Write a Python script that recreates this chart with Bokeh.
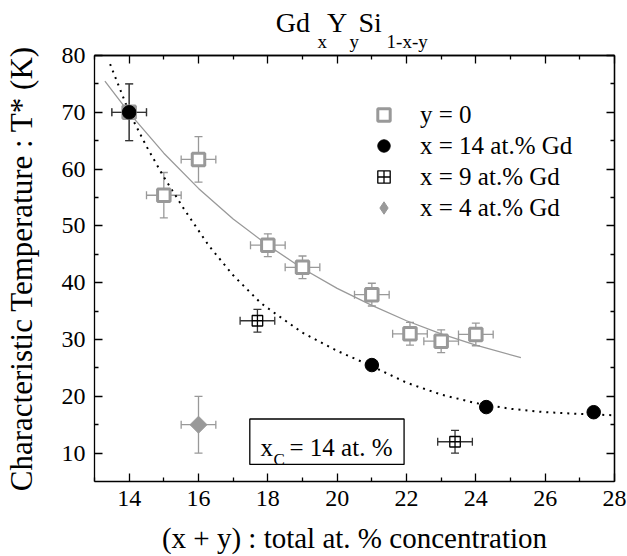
import numpy as np
from bokeh.plotting import figure
from bokeh.models import (ColumnDataSource, Whisker, TeeHead, Label, Legend, LegendItem,
                          LinearAxis, FixedTicker, Range1d, BoxAnnotation,
                          CustomJSTickFormatter)
from bokeh.embed import file_html
from bokeh.resources import INLINE

# ---------------- data ----------------
# y = 0 series (open gray squares)
y0_x = [14.0, 15.0, 16.0, 18.0, 19.0, 21.0, 22.1, 23.0, 24.0]
y0_y = [70.0, 55.4, 61.7, 46.6, 42.7, 37.9, 31.0, 29.7, 30.9]
y0_xerr = [0.5, 0.5, 0.5, 0.5, 0.5, 0.5, 0.5, 0.5, 0.5]
y0_yerr = [5.0, 4.0, 4.0, 2.0, 2.0, 2.0, 2.0, 2.0, 2.0]

# x = 14 at.% Gd (black circles)
x14_x = [14.0, 21.0, 24.3, 27.4]
x14_y = [70.0, 25.5, 18.1, 17.2]
x14_xerr = [0.5, 0.0, 0.0, 0.0]
x14_yerr = [5.0, 0.0, 0.0, 0.0]

# x = 9 at.% Gd (square with cross)
x9_x = [17.7, 23.4]
x9_y = [33.3, 12.0]
x9_xerr = [0.5, 0.5]
x9_yerr = [2.0, 2.0]

# x = 4 at.% Gd (gray diamond)
x4_x = [16.0]
x4_y = [15.0]
x4_xerr = [0.5]
x4_yerr = [5.0]

# fitted curves
fit_y0_x = [13.3, 14.0, 15.0, 16.0, 17.0, 18.0, 19.0, 20.0, 21.0, 22.0, 23.0, 24.0, 25.3]
fit_y0_y = [75.5, 69.9, 62.8, 56.6, 51.2, 46.6, 42.5, 39.0, 36.0, 33.3, 31.0, 29.0, 26.8]
fit_x14_x = [13.45, 14.0, 14.5, 15.0, 15.6, 16.3, 17.0, 17.8, 18.3, 19.0, 20.0, 21.0,
             22.0, 23.0, 24.0, 25.0, 26.0, 27.0, 28.0]
fit_x14_y = [78.5, 70.0, 64.0, 58.6, 52.8, 46.5, 41.3, 36.4, 34.2, 31.2, 28.0, 25.3,
             22.4, 20.3, 18.8, 17.8, 17.2, 16.9, 16.65]

x_ticks = [14, 16, 18, 20, 22, 24, 26, 28]
x_minor = [13, 15, 17, 19, 21, 23, 25, 27]
y_ticks = [10, 20, 30, 40, 50, 60, 70, 80]
y_minor = [15, 25, 35, 45, 55, 65, 75]

# title pieces: text and the x position (in axis units) of each piece's centre
title_main = ["Gd", "Y", "Si"]
title_main_at = [18.72, 20.0, 20.95]
title_sub = ["x", "y", "1-x-y"]
title_sub_at = [19.57, 20.49, 22.02]

FONT = "Liberation Serif"
QFONT = "'Liberation Serif'"
GRAY = "#999999"

# ---------------- figure ----------------
p = figure(width=627, height=556, x_range=Range1d(13, 28), y_range=Range1d(5, 80),
           output_backend="svg", toolbar_location=None,
           min_border_left=93, min_border_right=13, min_border_top=55, min_border_bottom=74,
           x_axis_location=None, y_axis_location=None)
p.xgrid.visible = False
p.ygrid.visible = False
p.outline_line_color = None


def style_axis(ax):
    ax.axis_line_color = "black"
    ax.axis_line_width = 1.3
    ax.major_tick_line_width = 1.3
    ax.minor_tick_line_width = 1.3
    ax.major_tick_line_color = "black"
    ax.minor_tick_line_color = "black"
    ax.major_tick_in = 8
    ax.major_tick_out = 0
    ax.minor_tick_in = 4
    ax.minor_tick_out = 0


def labelled_axis(ticks, minor, label, label_size, standoff):
    ax = LinearAxis(ticker=FixedTicker(ticks=ticks, minor_ticks=minor))
    style_axis(ax)
    ax.major_label_text_font = QFONT
    ax.major_label_text_font_size = "24px"
    ax.major_label_text_color = "black"
    ax.major_label_standoff = 9
    ax.axis_label = label
    ax.axis_label_text_font = FONT
    ax.axis_label_text_font_size = label_size
    ax.axis_label_text_font_style = "normal"
    ax.axis_label_text_color = "black"
    ax.axis_label_standoff = standoff
    return ax


def mirror_axis(tick_list, length):
    ax = LinearAxis(ticker=FixedTicker(ticks=[], minor_ticks=tick_list))
    style_axis(ax)
    ax.minor_tick_in = length
    ax.major_label_standoff = 0
    return ax


def text_axis(at, labels, size, standoff):
    fmt = CustomJSTickFormatter(args=dict(at=at, labels=labels), code="""
        for (let i = 0; i < at.length; i++) {
            if (Math.abs(at[i] - tick) < 1e-6) { return labels[i]; }
        }
        return "";
    """)
    ax = LinearAxis(ticker=FixedTicker(ticks=at, minor_ticks=[]), formatter=fmt)
    ax.axis_line_color = None
    ax.major_tick_line_color = None
    ax.minor_tick_line_color = None
    ax.major_tick_in = 0
    ax.major_tick_out = 0
    ax.minor_tick_in = 0
    ax.minor_tick_out = 0
    ax.major_label_text_font = QFONT
    ax.major_label_text_font_size = size
    ax.major_label_text_color = "black"
    ax.major_label_standoff = standoff
    return ax


p.add_layout(labelled_axis(x_ticks, x_minor, "(x + y) : total at. % concentration",
                           "29px", 13), "below")
p.add_layout(labelled_axis(y_ticks, y_minor, "Characteristic Temperature : T* (K)",
                           "31px", 20), "left")
p.add_layout(mirror_axis(x_ticks, 8), "above")
p.add_layout(mirror_axis(x_minor, 4), "above")
p.add_layout(text_axis(title_sub_at, title_sub, "19px", 4), "above")
p.add_layout(text_axis(title_main_at, title_main, "28px", -10), "above")
p.add_layout(mirror_axis(y_ticks, 8), "right")
p.add_layout(mirror_axis(y_minor, 4), "right")

# ---------------- fit curves ----------------
p.line(fit_y0_x, fit_y0_y, line_color=GRAY, line_width=1.3)
p.line(fit_x14_x, fit_x14_y, line_color="black", line_width=2, line_dash="2 5")


# ---------------- error bars ----------------
def add_errors(xs, ys, xe, ye, color):
    idx = [i for i in range(len(xs)) if xe[i] > 0 or ye[i] > 0]
    src = ColumnDataSource(dict(
        x=[xs[i] for i in idx], y=[ys[i] for i in idx],
        xl=[xs[i] - xe[i] for i in idx], xu=[xs[i] + xe[i] for i in idx],
        yl=[ys[i] - ye[i] for i in idx], yu=[ys[i] + ye[i] for i in idx]))
    for dim, base, lo, up in (("height", "x", "yl", "yu"), ("width", "y", "xl", "xu")):
        w = Whisker(source=src, base=base, lower=lo, upper=up, dimension=dim,
                    line_color=color, line_width=1.3, level="underlay",
                    lower_head=TeeHead(size=8, line_color=color, line_width=1.3),
                    upper_head=TeeHead(size=8, line_color=color, line_width=1.3))
        p.add_layout(w)


add_errors(y0_x, y0_y, y0_xerr, y0_yerr, GRAY)
add_errors(x4_x, x4_y, x4_xerr, x4_yerr, GRAY)
add_errors(x9_x, x9_y, x9_xerr, x9_yerr, "#333333")
add_errors(x14_x, x14_y, x14_xerr, x14_yerr, "#333333")

# ---------------- markers ----------------
r_y0 = p.scatter(y0_x, y0_y, marker="square", size=12.5, line_width=3,
                 line_color=GRAY, fill_color="white")
# diamond glyph used for the legend entry (hidden under the rotated square)
r_x4_leg = p.scatter(x4_x, x4_y, marker="diamond", size=10,
                     line_color=GRAY, fill_color=GRAY)
r_x4 = p.scatter(x4_x, x4_y, marker="square", angle=np.pi / 4, size=12,
                 line_color=GRAY, fill_color=GRAY)
r_x9 = p.scatter(x9_x, x9_y, marker="square_cross", size=10.5, line_width=1.3,
                 line_color="black", fill_color="white")
r_x14 = p.scatter(x14_x, x14_y, marker="circle", size=13.5,
                  line_color="black", fill_color="black")

# ---------------- legend ----------------
legend = Legend(items=[LegendItem(label="y = 0", renderers=[r_y0]),
                       LegendItem(label="x = 14 at.% Gd", renderers=[r_x14]),
                       LegendItem(label="x = 9 at.% Gd", renderers=[r_x9]),
                       LegendItem(label="x = 4 at.% Gd", renderers=[r_x4_leg])],
                location=(274, 258), border_line_color=None, background_fill_alpha=0,
                glyph_width=31, glyph_height=31, label_height=31, spacing=0,
                padding=0, margin=0, label_standoff=21,
                label_text_font=FONT, label_text_font_size="25px",
                label_text_color="black")
p.add_layout(legend)

# ---------------- x_C box ----------------
box = BoxAnnotation(left=17.48, right=21.93, bottom=8.0, top=16.0,
                    fill_color="white", fill_alpha=1.0, line_color="black",
                    line_width=1.3, line_alpha=1.0)
p.add_layout(box)

FX, FY = 93, 482  # frame left / bottom on the canvas


def frame_label(text, cx, cy, size):
    p.add_layout(Label(x=cx - FX, y=FY - cy, x_units="screen", y_units="screen",
                       text=text, text_font=FONT, text_font_size=size,
                       text_color="black", text_baseline="alphabetic", text_align="left"))


frame_label("x", 259, 448, "25px")
frame_label("C", 272, 460, "17px")
frame_label("= 14 at. %", 288, 448, "25px")

open("out.html", "w").write(file_html(p, INLINE))
